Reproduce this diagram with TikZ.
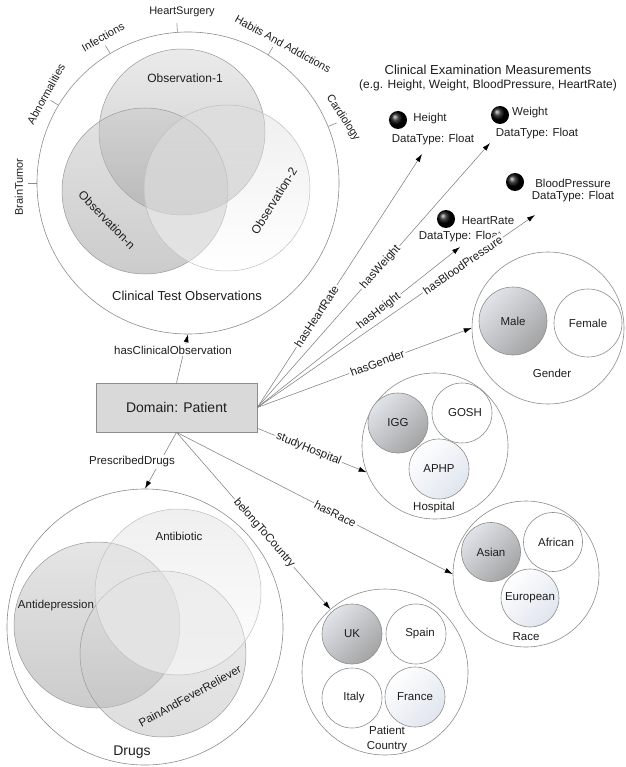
\documentclass[tikz,border=0pt]{standalone}
\usepackage{fontspec}
\setmainfont{Liberation Sans}
\usetikzlibrary{arrows.meta,calc}

\definecolor{ink}{HTML}{1E1E1E}
\definecolor{rim}{HTML}{8C8C8C}
\definecolor{wire}{HTML}{808080}
\definecolor{boxgray}{HTML}{D9D9D9}
\definecolor{darktop}{HTML}{E0E3E9}
\definecolor{darkbot}{HTML}{A4A4A4}
\definecolor{palebot}{HTML}{E0E5EE}

\begin{document}
\begin{tikzpicture}[x=1pt,y=-1pt,
  every node/.style={font=\fontsize{11.5}{13.5}\selectfont, text=ink},
  group/.style={circle, draw=rim, line width=0.6pt, inner sep=0pt},
  vshade/.style={circle, draw=black!40, line width=0.5pt, inner sep=0pt, minimum size=166pt,
                 fill opacity=0.5, shading angle=55},
  vveil/.style={vshade, draw=black!25, top color=black!14, bottom color=white, fill opacity=0.45},
  item/.style={circle, draw=rim, line width=0.6pt, inner sep=0pt, minimum size=60pt, fill=white},
  darkitem/.style={item, top color=darktop, bottom color=darkbot, shading angle=45},
  paleitem/.style={item, top color=white, bottom color=palebot, shading angle=45},
  ballnode/.style={circle, inner sep=0pt, minimum size=18pt, ball color=black},
  conn/.style={draw=wire, line width=0.55pt, -{Latex[length=8pt,width=5pt,color=black]}},
  lab/.style={fill=white, inner sep=1.5pt, sloped},
  tick/.style={draw=rim, line width=0.6pt},
  outer/.style={font=\fontsize{11}{13}\selectfont},
  big/.style={font=\fontsize{13}{15}\selectfont},
]
\useasboundingbox (0,0) rectangle (625,767);

% ---------- clinical test observations ----------
\node[group, minimum size=302pt] (cto) at (188,183) {};
\node[vshade, top color=black!16, bottom color=black!42] (obs1) at (182,132) {};
\node[vshade, top color=black!22, bottom color=black!40] (obsn) at (145,191) {};
\node[vveil] (obs2) at (227,188) {};
\node[font=\fontsize{12}{14}\selectfont] (lobs1) at (185,78) {Observation-1};
\node[font=\fontsize{12}{14}\selectfont, rotate=58] (lobs2) at (274,201) {Observation-2};
\node[font=\fontsize{12}{14}\selectfont, rotate=-46] (lobsn) at (107,220) {Observation-n};
\node[big] (lcto) at (187,296) {Clinical Test Observations};

% category ticks around the circle
\foreach \a in {94,121,149,180,58,22}
  \draw[tick] (cto.\a) -- ($(cto.center)!1.06!(cto.\a)$);
\node[outer] (theart) at (182,12) {HeartSurgery};
\node[outer, rotate=30] (tinf) at (103,37) {Infections};
\node[outer, rotate=61] (tabn) at (46,94) {Abnormalities};
\node[outer, rotate=90] (tbrain) at (19,187) {BrainTumor};
\node[outer, rotate=-29] (thab) at (283,44) {Habits And Addictions};
\node[outer, rotate=-57] (tcard) at (343,118) {Cardiology};

% ---------- clinical examination measurements ----------
\node[big] (mtitle) at (488,70) {Clinical Examination Measurements};
\node[font=\fontsize{12}{14}\selectfont] (msub) at (488,85) {(e.g. Height, Weight, BloodPressure, HeartRate)};

\node[ballnode] (bh) at (398,120) {};
\node (th) at (430,119) {Height};
\node (dh) at (433,140) {DataType: Float};
\node[ballnode] (bw) at (500,115) {};
\node (tw) at (530,113) {Weight};
\node (dw) at (537,134) {DataType: Float};
\node[ballnode] (bbp) at (515,182) {};
\node (tbp) at (573,183) {BloodPressure};
\node (dbp) at (573,197) {DataType: Float};
\node[ballnode] (bhr) at (446,219) {};
\node (thr) at (488,221) {HeartRate};
\node (dhr) at (460,237) {DataType: Float};

\coordinate (endH) at (422,154);
\coordinate (endW) at (490,143);
\coordinate (endHR) at (460,247);
\coordinate (endBP) at (535,215);

% ---------- patient ----------
\node[draw=rim, line width=0.6pt, fill=boxgray, minimum width=161pt, minimum height=49pt,
      font=\fontsize{14}{16}\selectfont] (patient) at (176.5,407.5) {Domain: Patient};

% ---------- gender ----------
\node[group, minimum size=152pt] (gender) at (548,328) {};
\node[darkitem, minimum size=68pt] (male) at (513,321) {Male};
\node[item, minimum size=68pt] (female) at (588,323) {Female};
\node (lgender) at (552,373) {Gender};

% ---------- hospital ----------
\node[group, minimum size=146pt] (hosp) at (435,446) {};
\node[darkitem] (igg) at (398,423) {IGG};
\node[item] (gosh) at (462,413) {\hspace*{6pt}GOSH};
\node[paleitem] (aphp) at (439,469) {APHP};
\node (lhosp) at (434,508) {Hospital};

% ---------- race ----------
\node[group, minimum size=146pt] (race) at (526,574) {};
\node[darkitem, minimum size=59pt] (asian) at (491,552) {Asian};
\node[item, minimum size=59pt] (african) at (553,542) {\hspace*{6pt}African};
\node[paleitem, minimum size=58pt] (european) at (530,598) {European};
\node (lrace) at (526,637) {Race};

% ---------- country ----------
\node[group, minimum size=166pt] (country) at (385,672) {};
\node[darkitem] (uk) at (352,634) {UK};
\node[item] (spain) at (416,634) {\hspace*{8pt}Spain};
\node[item] (italy) at (352,698) {\hspace*{4pt}Italy};
\node[paleitem] (france) at (415,697) {France};
\node[align=center, font=\fontsize{11.5}{15}\selectfont] (lcountry) at (387,739) {Patient\\Country};

% ---------- drugs ----------
\node[group, minimum size=276pt] (drugs) at (145,627) {};
\node[vshade, top color=black!20, bottom color=black!40] (antidep) at (97,625) {};
\node[vshade, top color=black!12, bottom color=black!26] (pain) at (163,654) {};
\node[vveil] (antibio) at (178,592) {};
\node (lantibio) at (179,536) {Antibiotic};
\node (lantidep) at (56,606) {Antidepression};
\node[rotate=29] (lpain) at (190,696) {PainAndFeverReliever};
\node[font=\fontsize{14}{16}\selectfont] (ldrugs) at (132,752) {Drugs};

% ---------- connectors ----------
\draw[conn] (patient.north) -- (cto.south);
\node[fill=white, inner sep=1.5pt] (eco) at (173,350) {hasClinicalObservation};

\draw[conn] (patient.east) -- node[lab, pos=0.36] (ehr) {hasHeartRate} (endH);
\draw[conn] (patient.east) -- node[lab, pos=0.53] (ew) {hasWeight} (endW);
\draw[conn] (patient.east) -- node[lab, pos=0.60] (eh) {hasHeight} (endHR);
\draw[conn] (patient.east) -- node[lab, pos=0.74] (ebp) {hasBloodPressure} (endBP);
\draw[conn] (patient.east) -- node[lab, pos=0.56] (eg) {hasGender} (gender.west);
\draw[conn] ([yshift=4pt]patient.south east) -- node[lab, pos=0.47] (esh) {studyHospital} (hosp.201);
\draw[conn] (patient.south) -- node[lab, pos=0.575] (er) {hasRace} (race.west);
\draw[conn] (patient.south) -- node[lab, pos=0.57] (ec) {belongToCountry} (country.131);
\draw[conn] (patient.south) -- (drugs.north);
\node[fill=white, inner sep=1.5pt] (epd) at (132,462) {PrescribedDrugs};
\end{tikzpicture}
\end{document}
